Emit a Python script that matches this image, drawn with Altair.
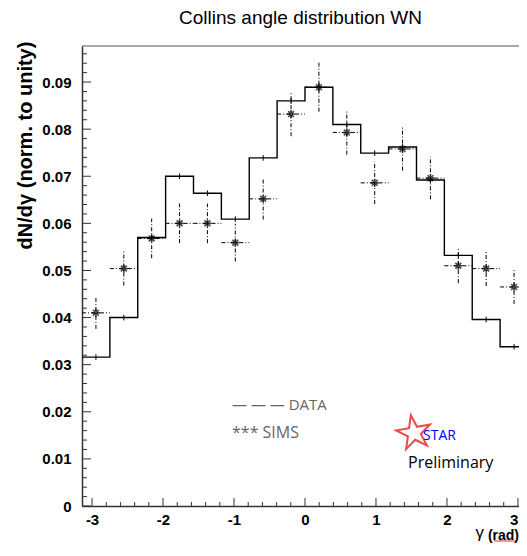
import numpy as np
import pandas as pd
import altair as alt

# ---- data ----
n_bins = 16
data_vals = [0.0316, 0.0400, 0.0570, 0.0700, 0.0664, 0.0609, 0.0739, 0.0860,
             0.0889, 0.0810, 0.0749, 0.0762, 0.0692, 0.0532, 0.0396, 0.0338]
data_err = [0.0006] * 16
sims_vals = [0.0410, 0.0504, 0.0568, 0.0600, 0.0600, 0.0559, 0.0652, 0.0832,
             0.0889, 0.0793, 0.0686, 0.0758, 0.0696, 0.0510, 0.0504, 0.0465]
sims_err = [0.0034, 0.0036, 0.0042, 0.0042, 0.0042, 0.0040, 0.0044, 0.0047,
            0.0052, 0.0047, 0.0045, 0.0046, 0.0045, 0.0037, 0.0037, 0.0036]
x_ticks = [-3, -2, -1, 0, 1, 2, 3]
y_ticks = [0, 0.01, 0.02, 0.03, 0.04, 0.05, 0.06, 0.07, 0.08, 0.09]

XMIN, XMAX_FULL = -np.pi, np.pi
XVIEW_MAX = 3.015          # right part of the frame is cut by the page edge
YMAX = 0.09765
W, H = 437, 460

edges = np.linspace(XMIN, XMAX_FULL, n_bins + 1)
centers = 0.5 * (edges[:-1] + edges[1:])

hist_df = pd.DataFrame({"x": list(edges), "y": data_vals + [data_vals[-1]]})
df = pd.DataFrame({
    "lo": edges[:-1], "hi": edges[1:], "c": centers,
    "d": data_vals, "d_lo": np.array(data_vals) - np.array(data_err),
    "d_hi": np.array(data_vals) + np.array(data_err),
    "s": sims_vals, "s_lo": np.array(sims_vals) - np.array(sims_err),
    "s_hi": np.array(sims_vals) + np.array(sims_err),
})

xs = alt.Scale(domain=[XMIN, XVIEW_MAX], nice=False, zero=False)
ys = alt.Scale(domain=[0, YMAX], nice=False, zero=False)

label_font = "Liberation Sans"

xaxis = alt.Axis(values=x_ticks, labelExpr="'' + datum.value", title=None,
                 ticks=False, grid=False, labelFont=label_font, labelFontWeight="bold",
                 labelFontSize=15, labelColor="black", labelPadding=6, labelFlush=5,
                 domainColor="#333", domainWidth=1.5)
yaxis = alt.Axis(values=y_ticks,
                 labelExpr="datum.value == 0 ? '0' : format(datum.value, '.2f')",
                 title="dN/dγ (norm. to unity)", ticks=False, grid=False,
                 labelFont=label_font, labelFontWeight="bold", labelFontSize=15,
                 labelColor="black", labelPadding=11, domainColor="#333", domainWidth=1.5,
                 titleFont=label_font, titleFontWeight="bold", titleFontSize=20,
                 titleColor="black", titleAngle=270, titleX=-57, titleY=99,
                 titleAlign="center", titleBaseline="middle")

hist = alt.Chart(hist_df).mark_line(interpolate="step-after", color="black",
                                     strokeWidth=1.4, clip=True).encode(
    x=alt.X("x:Q", scale=xs, axis=xaxis),
    y=alt.Y("y:Q", scale=ys, axis=yaxis),
)

base = alt.Chart(df)
hist_err = base.mark_rule(color="black", strokeWidth=1, clip=True).encode(
    x=alt.X("c:Q", scale=xs), y=alt.Y("d_lo:Q", scale=ys), y2="d_hi:Q")

dash = [4, 2, 1, 2]
sims_v = base.mark_rule(color="black", strokeWidth=1, strokeDash=dash, clip=True).encode(
    x=alt.X("c:Q", scale=xs), y=alt.Y("s_lo:Q", scale=ys), y2="s_hi:Q")
sims_h = base.mark_rule(color="black", strokeWidth=1, strokeDash=dash, clip=True).encode(
    x=alt.X("lo:Q", scale=xs), x2="hi:Q", y=alt.Y("s:Q", scale=ys))
asterisk = "M-1,0L1,0M0,-1L0,1M-0.7,-0.7L0.7,0.7M-0.7,0.7L0.7,-0.7"
sims_pts = base.mark_point(shape=asterisk, filled=False, color="black",
                           strokeWidth=1.6, size=70).encode(
    x=alt.X("c:Q", scale=xs), y=alt.Y("s:Q", scale=ys))

# inward ticks (ROOT style)
xt_all = np.round(np.arange(-3.0, 3.01, 0.2), 3)
xt_df = pd.DataFrame({"v": xt_all,
                      "major": [abs(v - round(v)) < 1e-6 for v in xt_all]})
yt_all = np.round(np.arange(0, YMAX, 0.002), 4)
yt_df = pd.DataFrame({"v": yt_all,
                      "major": [abs(v * 100 - round(v * 100)) < 1e-6 for v in yt_all]})

xt_major = alt.Chart(xt_df).transform_filter("datum.major").mark_rule(
    color="#333", strokeWidth=1).encode(
    x=alt.X("v:Q", scale=xs), y=alt.value(H), y2=alt.value(H - 8))
xt_minor = alt.Chart(xt_df).transform_filter("!datum.major").mark_rule(
    color="#333", strokeWidth=1).encode(
    x=alt.X("v:Q", scale=xs), y=alt.value(H), y2=alt.value(H - 4))
yt_major = alt.Chart(yt_df).transform_filter("datum.major").mark_rule(
    color="#333", strokeWidth=1).encode(
    y=alt.Y("v:Q", scale=ys), x=alt.value(0), x2=alt.value(9))
yt_minor = alt.Chart(yt_df).transform_filter("!datum.major").mark_rule(
    color="#333", strokeWidth=1).encode(
    y=alt.Y("v:Q", scale=ys), x=alt.value(0), x2=alt.value(5))

# top frame line (right side of the frame lies beyond the page edge)
top_frame = alt.Chart(pd.DataFrame({"a": [0]})).mark_rule(
    color="#555", strokeWidth=1).encode(
    x=alt.value(0), x2=alt.value(W), y=alt.value(0))

# annotations
ann_font = "Open Sans"
leg1 = alt.Chart(pd.DataFrame({"t": ["— — — DATA"]})).mark_text(
    align="left", baseline="middle", font=ann_font, fontSize=15, color="#666").encode(
    text="t:N", x=alt.value(150), y=alt.value(359))
leg2 = alt.Chart(pd.DataFrame({"t": ["***  SIMS"]})).mark_text(
    align="left", baseline="middle", font=ann_font, fontSize=16, color="#666").encode(
    text="t:N", x=alt.value(150), y=alt.value(387))
star_shape = ("M0,-1L0.2245,-0.309L0.951,-0.309L0.363,0.118L0.588,0.809L0,0.382"
              "L-0.588,0.809L-0.363,0.118L-0.951,-0.309L-0.2245,-0.309Z")
star = alt.Chart(pd.DataFrame({"a": [0]})).mark_point(
    shape=star_shape, filled=False, color="#e00000", strokeWidth=2, size=1300,
    angle=350).encode(x=alt.value(332), y=alt.value(387))
star_txt = alt.Chart(pd.DataFrame({"t": ["STAR"]})).mark_text(
    align="left", baseline="middle", font=ann_font, fontSize=14, color="blue").encode(
    text="t:N", x=alt.value(341), y=alt.value(390))
prelim = alt.Chart(pd.DataFrame({"t": ["Preliminary"]})).mark_text(
    align="left", baseline="middle", font=ann_font, fontSize=16, color="black").encode(
    text="t:N", x=alt.value(326), y=alt.value(417))

gam = alt.Chart(pd.DataFrame({"t": ["γ"]})).mark_text(
    align="right", baseline="bottom", font=label_font, fontSize=17,
    color="black").encode(text="t:N", x=alt.value(402), y=alt.value(496))
rad = alt.Chart(pd.DataFrame({"t": ["(rad)"]})).mark_text(
    align="right", baseline="bottom", font=label_font, fontWeight="bold",
    fontSize=14, color="black").encode(
    text="t:N", x=alt.value(437), y=alt.value(496.5))
rad_ul = alt.Chart(pd.DataFrame({"a": [0]})).mark_rule(
    color="#e03030", strokeWidth=1).encode(
    x=alt.value(412), x2=alt.value(433), y=alt.value(495))

chart = alt.layer(
    hist, hist_err, sims_v, sims_h, sims_pts,
    xt_major, xt_minor, yt_major, yt_minor, top_frame,
    leg1, leg2, star, star_txt, prelim, gam, rad, rad_ul,
).properties(
    width=W, height=H,
    title=alt.TitleParams("Collins angle distribution WN", font=label_font,
                          fontSize=19, fontWeight="normal", color="black", offset=13),
    padding={"left": 74, "top": 38, "right": 0, "bottom": 37},
    autosize=alt.AutoSizeParams(type="none"),
).configure_view(stroke=None)

chart.save("out.html", embed_options={"renderer": "svg", "actions": False})
